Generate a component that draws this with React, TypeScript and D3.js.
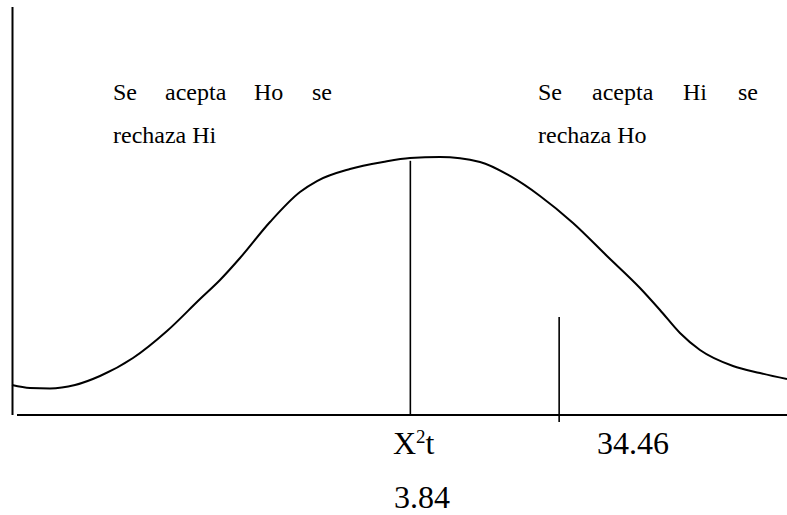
import React, { useEffect, useRef } from 'react';
import * as d3 from 'd3';

// curve shape (x 0..100 along the axis, y 0..100 height)
const curveX = [0, 2.32, 4.9, 8.13, 11.35, 15.61, 20.0, 24.26, 26.84, 29.42, 33.29, 37.16, 39.35, 43.61, 47.87, 51.35, 55.23, 60.39, 64.26, 68.13, 72.39, 76.77, 81.03, 83.61, 86.19, 88.77, 93.03, 96.52, 100];
const curveY = [7.35, 6.62, 6.5, 7.35, 9.56, 13.97, 20.59, 28.43, 33.09, 38.48, 47.3, 54.66, 57.35, 60.29, 62.01, 62.99, 63.24, 62.01, 58.58, 53.68, 47.06, 38.97, 31.13, 25.74, 20.1, 15.93, 12.01, 10.29, 8.82];

// vertical markers: position, top, bottom
const markers = [
  { x: 51.4, top: 62.3, bottom: 0 },
  { x: 70.6, top: 24.0, bottom: -1.7 },
];

const leftWords = ['Se', 'acepta', 'Ho', 'se'];
const leftWordX = [113, 165, 254, 312];
const rightWords = ['Se', 'acepta', 'Hi', 'se'];
const rightWordX = [538, 592, 683, 738];
const secondLines = ['rechaza Hi', 'rechaza Ho'];

const App = () => {
  const ref = useRef<SVGSVGElement>(null);

  useEffect(() => {
    const width = 787;
    const height = 515;
    const svg = d3.select(ref.current);
    svg.selectAll('*').remove();

    const x = d3.scaleLinear().domain([0, 100]).range([12, 787]);
    const y = d3.scaleLinear().domain([0, 100]).range([415, 7]);
    const font = 'Liberation Serif';

    // ejes
    svg.append('line')
      .attr('x1', 12.5).attr('x2', 12.5)
      .attr('y1', y(100)).attr('y2', y(0))
      .attr('stroke', '#000').attr('stroke-width', 2);
    svg.append('line')
      .attr('x1', 17).attr('x2', width)
      .attr('y1', y(0)).attr('y2', y(0))
      .attr('stroke', '#000').attr('stroke-width', 2);

    // curva
    const pts = curveX.map((v, i) => [v, curveY[i]] as [number, number]);
    const line = d3.line<[number, number]>()
      .x(d => x(d[0]))
      .y(d => y(d[1]))
      .curve(d3.curveMonotoneX);
    svg.append('path')
      .datum(pts)
      .attr('fill', 'none')
      .attr('stroke', '#000')
      .attr('stroke-width', 2)
      .attr('d', line);

    // lineas verticales
    svg.selectAll('.marker')
      .data(markers)
      .enter()
      .append('line')
      .attr('class', 'marker')
      .attr('x1', d => x(d.x)).attr('x2', d => x(d.x))
      .attr('y1', d => y(d.top)).attr('y2', d => y(d.bottom))
      .attr('stroke', '#000').attr('stroke-width', 1.6);

    // textos de arriba
    const addWords = (words: string[], xs: number[]) => {
      words.forEach((w, i) => {
        svg.append('text')
          .attr('x', xs[i]).attr('y', 100)
          .attr('font-family', font).attr('font-size', 24)
          .text(w);
      });
    };
    addWords(leftWords, leftWordX);
    addWords(rightWords, rightWordX);
    secondLines.forEach((t, i) => {
      svg.append('text')
        .attr('x', i === 0 ? leftWordX[0] : rightWordX[0]).attr('y', 143)
        .attr('font-family', font).attr('font-size', 24)
        .text(t);
    });

    // etiquetas
    const lbl = svg.append('text')
      .attr('x', 393).attr('y', 454)
      .attr('font-family', font).attr('font-size', 32);
    lbl.append('tspan').text('X');
    lbl.append('tspan').attr('dy', -11).attr('font-size', 19).text('2');
    lbl.append('tspan').attr('dy', 11).text('t');

    svg.append('text')
      .attr('x', 597).attr('y', 454)
      .attr('font-family', font).attr('font-size', 32)
      .text('34.46');

    svg.append('text')
      .attr('x', 394).attr('y', 508)
      .attr('font-family', font).attr('font-size', 32)
      .text('3.84');

    svg.attr('width', width).attr('height', height);
  }, []);

  return (
    <svg
      ref={ref}
      width={787}
      height={515}
      style={{ position: 'absolute', left: 0, top: 0, background: '#fff' }}
    />
  );
};

export default App;
